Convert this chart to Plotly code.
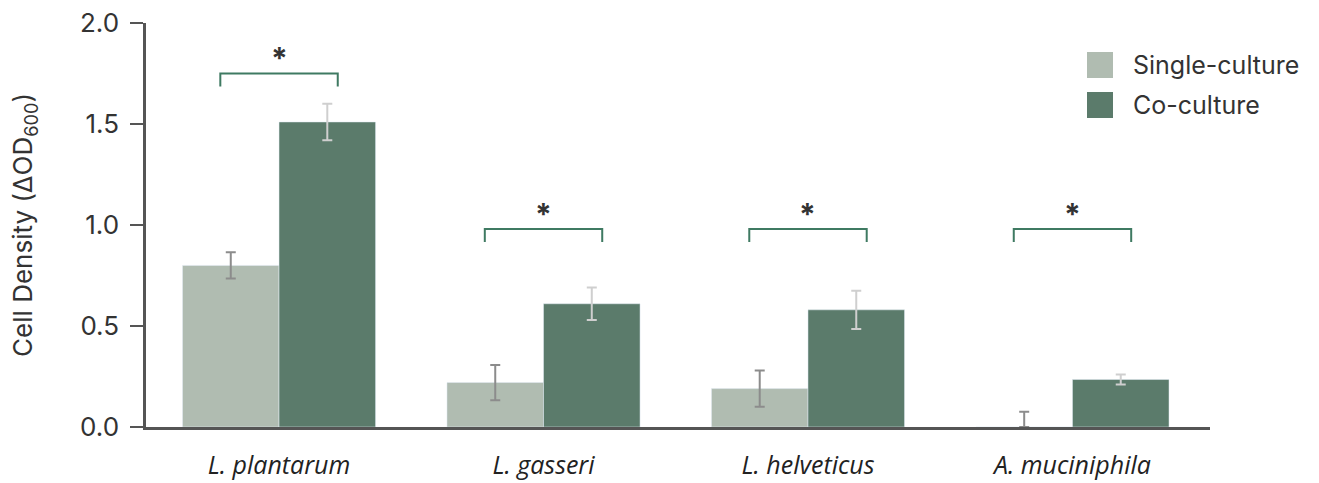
import plotly.graph_objects as go

categories = ["L. plantarum", "L. gasseri", "L. helveticus", "A. muciniphila"]
single_vals = [0.80, 0.22, 0.19, 0.0]
single_err = [0.065, 0.087, 0.09, 0.075]
single_err_minus = [0.065, 0.087, 0.09, 0.0]
co_vals = [1.51, 0.61, 0.58, 0.235]
co_err = [0.09, 0.08, 0.095, 0.025]
bracket_y = [1.75, 0.98, 0.98, 0.98]
sig_labels = ["*", "*", "*", "*"]
sig_cats = [0, 1, 2, 3]
yticks = [0.0, 0.5, 1.0, 1.5, 2.0]

C_SINGLE = "#b0bcb1"
C_CO = "#5b7b6b"
C_BRACKET = "#3f7a62"
AXIS = "#555555"
TXT = "#333333"

fig = go.Figure()
xs = list(range(len(categories)))
fig.add_trace(go.Bar(
    x=xs, y=single_vals, name="Single-culture", marker_color=C_SINGLE,
    error_y=dict(type="data", array=single_err, arrayminus=single_err_minus, symmetric=False,
                 color="#8c8c8c", thickness=2, width=5),
    showlegend=False))
fig.add_trace(go.Bar(
    x=xs, y=co_vals, name="Co-culture", marker_color=C_CO,
    error_y=dict(type="data", array=co_err, color="#cfcfcf", thickness=2, width=5),
    showlegend=False))

# significance brackets
half = 0.222
tick_drop = 0.064
for ci, yb, lab in zip(sig_cats, bracket_y, sig_labels):
    fig.add_trace(go.Scatter(
        x=[ci - half, ci - half, ci + half, ci + half],
        y=[yb - tick_drop, yb, yb, yb - tick_drop],
        mode="lines", line=dict(color=C_BRACKET, width=2),
        showlegend=False, hoverinfo="skip"))
    fig.add_annotation(x=ci, y=yb + 0.09, text="<b>%s</b>" % lab, showarrow=False,
                       yanchor="middle", yshift=-3,
                       font=dict(size=30, color=TXT, family="Inter"))

# legend (manual)
legend_items = [("Single-culture", C_SINGLE), ("Co-culture", C_CO)]
for i, (lab, col) in enumerate(legend_items):
    ytop = 52 + i * 40
    fig.add_shape(type="rect", xref="paper", yref="paper",
                  x0=(1087 - 146) / 1064, x1=(1113 - 146) / 1064,
                  y0=1 - (ytop + 26 - 23) / 404, y1=1 - (ytop - 23) / 404,
                  fillcolor=col, line_width=0)
    fig.add_annotation(xref="paper", yref="paper", x=(1131 - 146) / 1064,
                       y=1 - (ytop + 13 - 23) / 404, text=lab, showarrow=False,
                       xanchor="left", yanchor="middle",
                       font=dict(size=25, color=TXT, family="Inter"))

fig.update_layout(
    width=1319, height=483,
    margin=dict(l=146, r=109, t=23, b=56, autoexpand=False),
    plot_bgcolor="white", paper_bgcolor="white",
    barmode="group", bargap=0.27, bargroupgap=0,
    font=dict(family="Inter", color=TXT),
    xaxis=dict(
        range=[-0.503, 3.52], tickmode="array", tickvals=xs,
        ticktext=["<i>%s</i>" % c for c in categories],
        showline=True, linecolor=AXIS, linewidth=2.5, ticks="", showgrid=False, zeroline=False,
        automargin=False,
        tickfont=dict(size=25, color="#222222", family="Open Sans"),
        ticklabelstandoff=14),
    yaxis=dict(
        range=[0, 2.0], tickmode="array", tickvals=yticks,
        ticktext=["%.1f" % v for v in yticks],
        showline=True, linecolor=AXIS, linewidth=2.5, ticks="outside", ticklen=13,
        tickwidth=2, tickcolor=AXIS, showgrid=False, zeroline=False,
        automargin=False,
        tickfont=dict(size=26, color=TXT, family="Inter"),
        ticklabelstandoff=6,
        title=dict(text="Cell Density (ΔOD<sub>600</sub>)", standoff=40,
                   font=dict(size=26, color=TXT, family="Inter"))),
)

fig.write_html("out.html", config={"displayModeBar": False},
               post_script="document.body.style.margin='0';")
